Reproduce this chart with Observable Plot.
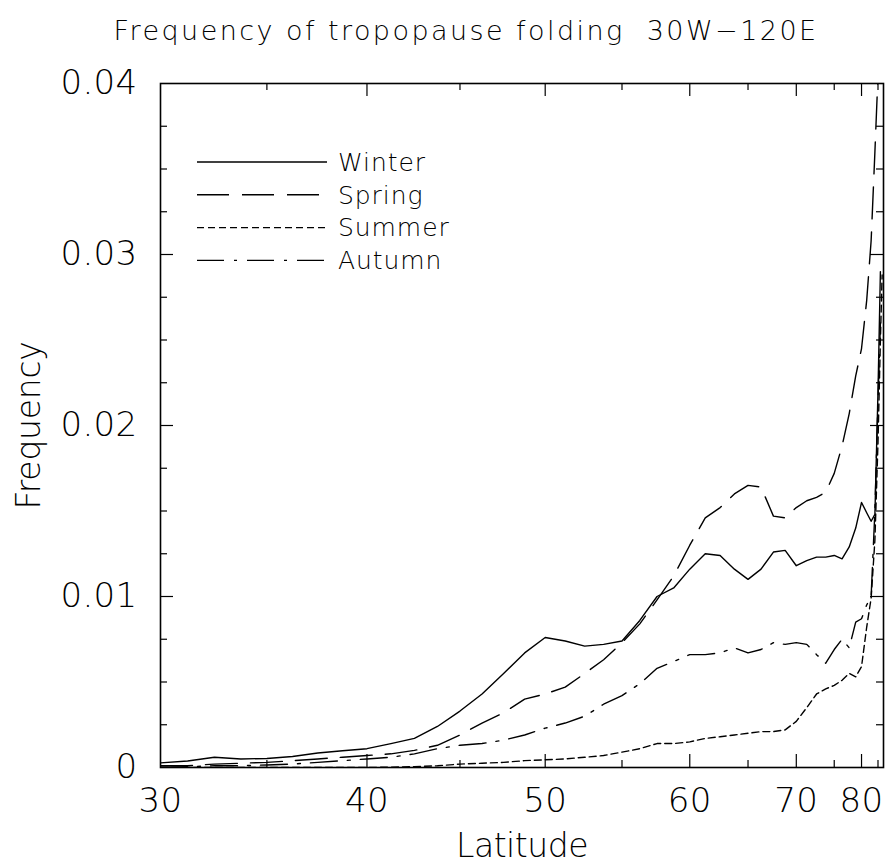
<!DOCTYPE html>
<html><head><meta charset="utf-8">
<script src="https://cdn.jsdelivr.net/npm/d3@7"></script>
<script src="https://cdn.jsdelivr.net/npm/@observablehq/plot@0.6"></script>
<style>
body{margin:0;background:#fff;}
#wrap{position:relative;width:886px;height:864px;overflow:hidden;}
#wrap svg{position:absolute;left:0;top:0;}
</style></head><body><div id="wrap"></div>
<script>
// ---- data ----
const title = "Frequency of tropopause folding\u00a0\u00a030W\u2212120E";
const xLabel = "Latitude";
const yLabel = "Frequency";
const latitudes = [30, 31.25, 32.5, 33.75, 35, 36.25, 37.5, 38.75, 40, 41.25, 42.5, 43.75, 45, 46.25, 47.5, 48.75, 50, 51.25, 52.5, 53.75, 55, 56.25, 57.5, 58.75, 60, 61.25, 62.5, 63.75, 65, 66.25, 67.5, 68.75, 70, 71.25, 72.5, 73.75, 75, 76.25, 77.5, 78.75, 80, 81.25, 82.5, 83.75, 85, 86.25, 87.5];
const seasons = ["Winter", "Spring", "Summer", "Autumn"];
const winter = [0.00027, 0.00038, 0.0006, 0.0005, 0.00053, 0.00064, 0.00085, 0.00098, 0.0011, 0.0014, 0.0017, 0.0024, 0.0033, 0.0043, 0.0055, 0.0067, 0.0076, 0.0074, 0.0071, 0.0072, 0.0074, 0.0086, 0.0100, 0.0105, 0.0116, 0.0125, 0.0124, 0.0116, 0.0110, 0.0116, 0.0126, 0.0127, 0.0118, 0.0121, 0.0123, 0.0123, 0.0124, 0.0122, 0.0129, 0.0140, 0.0155, 0.0149, 0.0144, 0.0148, 0.0220, 0.0290, null];
const spring = [0.0001, 0.0001, 0.0002, 0.00025, 0.0003, 0.0004, 0.0005, 0.0006, 0.0007, 0.0008, 0.0010, 0.0013, 0.0019, 0.0026, 0.0032, 0.0040, 0.0043, 0.0047, 0.0055, 0.0063, 0.0073, 0.0084, 0.0098, 0.0112, 0.0130, 0.0146, 0.0152, 0.0160, 0.0165, 0.0164, 0.0147, 0.0146, 0.0152, 0.0156, 0.0158, 0.0161, 0.0172, 0.0188, 0.0207, 0.0229, 0.0245, 0.0273, 0.0308, 0.0360, 0.0405, null, null];
const summer = [0, 0, 0, 0, 0, 0, 0, 0, 0, 0.00002, 0.00005, 0.0001, 0.0002, 0.00025, 0.0003, 0.0004, 0.00045, 0.0005, 0.0006, 0.0007, 0.0009, 0.0011, 0.0014, 0.0014, 0.0015, 0.0017, 0.0018, 0.0019, 0.0020, 0.0021, 0.0021, 0.0022, 0.0027, 0.0035, 0.0043, 0.0046, 0.0048, 0.0051, 0.0055, 0.0053, 0.0059, 0.0082, 0.0099, 0.0133, 0.0190, 0.0250, 0.0288];
const autumn = [0.00002, 0.00005, 0.0001, 0.0001, 0.00015, 0.0002, 0.0003, 0.0004, 0.0005, 0.0006, 0.0008, 0.0011, 0.0013, 0.0014, 0.0016, 0.0019, 0.0023, 0.0026, 0.0030, 0.0037, 0.0042, 0.0049, 0.0058, 0.0062, 0.0066, 0.0066, 0.0067, 0.0070, 0.0067, 0.0069, 0.0073, 0.0072, 0.0073, 0.0072, 0.0066, 0.0061, 0.0069, 0.0075, 0.0070, 0.0085, 0.0087, 0.0095, 0.0100, 0.0150, 0.0215, 0.0260, null];
const xTickLabels = [30, 40, 50, 60, 70, 80];
const xMajorTicks = [40, 50, 60, 70, 80];
const xMinorTicks = [35, 45, 55, 65, 75, 85];
const yTickLabels = [0, 0.01, 0.02, 0.03, 0.04];
const yMajorTicks = [0.01, 0.02, 0.03];
const yMinorTicks = [0.0025, 0.005, 0.0075, 0.0125, 0.015, 0.0175, 0.0225, 0.025, 0.0275, 0.0325, 0.035, 0.0375];

// ---- font choice: prefer a thin, monoline face if installed ----
const ctx = document.createElement("canvas").getContext("2d");
function pickFont() {
  const cands = [["DejaVu Sans", 200], ["Roboto", 300], ["Lato", 300], ["Open Sans", 300], ["Inter", 300], ["Noto Sans", 300]];
  const s = "Frequency of tropopause folding 0.04";
  for (const [f, w] of cands) {
    ctx.font = `400 40px "${f}"`; const a = ctx.measureText(s).width;
    ctx.font = `${w} 40px "${f}"`; const b = ctx.measureText(s).width;
    if (Math.abs(a - b) > 0.3) return [f, w];
  }
  return ["Roboto", 400];
}
const [FAM, WGT] = pickFont();
const FONT = `"${FAM}", sans-serif`;
function spacing(text, size, target) {
  ctx.font = `${WGT} ${size}px "${FAM}"`;
  const w = ctx.measureText(text).width;
  return Math.max(-1, (target - w) / text.length);
}

const dashes = {Winter: null, Spring: "32,13", Summer: "7,4", Autumn: "27,10,3,10"};
const seriesValues = {Winter: winter, Spring: spring, Summer: summer, Autumn: autumn};

const W = 886, H = 864, mT = 83, mB = 97, mL = 160, mR = 3;
const fw = W - mL - mR, fh = H - mT - mB;
const sinLat = lat => Math.sin(lat * Math.PI / 180);
const latOf = v => Math.round(Math.asin(v) * 180 / Math.PI);

const rows = [];
for (const s of seasons) {
  seriesValues[s].forEach((v, i) => {
    if (v != null) rows.push({season: s, lat: latitudes[i], v});
  });
}

const lineMarks = seasons.map(s => Plot.line(rows.filter(r => r.season === s), {
  x: d => sinLat(d.lat), y: "v", stroke: "black", strokeWidth: 1.4,
  strokeDasharray: dashes[s], clip: true
}));

const tickFS = 34, titleFS = 27, labelFS = 33, legFS = 25;
const plot = Plot.plot({
  width: W, height: H,
  marginTop: mT, marginBottom: mB, marginLeft: mL, marginRight: mR,
  style: {fontFamily: FONT, fontWeight: WGT, background: "white", color: "black"},
  x: {type: "linear", domain: [sinLat(30), sinLat(90)], label: null},
  y: {type: "linear", domain: [0, 0.04], label: null},
  marks: [
    ...lineMarks,
    Plot.tickX(xMajorTicks.map(sinLat), {x: d => d, insetTop: fh - 13, stroke: "black", strokeWidth: 1.2}),
    Plot.tickX(xMinorTicks.map(sinLat), {x: d => d, insetTop: fh - 7, stroke: "black", strokeWidth: 1.2}),
    Plot.tickX(xMajorTicks.map(sinLat), {x: d => d, insetBottom: fh - 13, stroke: "black", strokeWidth: 1.2}),
    Plot.tickX(xMinorTicks.map(sinLat), {x: d => d, insetBottom: fh - 7, stroke: "black", strokeWidth: 1.2}),
    Plot.tickY(yMajorTicks, {y: d => d, insetRight: fw - 13, stroke: "black", strokeWidth: 1.2}),
    Plot.tickY(yMinorTicks, {y: d => d, insetRight: fw - 7, stroke: "black", strokeWidth: 1.2}),
    Plot.tickY(yMajorTicks, {y: d => d, insetLeft: fw - 13, stroke: "black", strokeWidth: 1.2}),
    Plot.tickY(yMinorTicks, {y: d => d, insetLeft: fw - 7, stroke: "black", strokeWidth: 1.2}),
    Plot.frame({stroke: "black", strokeWidth: 1.6}),
    Plot.axisX(xTickLabels.map(sinLat), {anchor: "bottom", label: null, tickSize: 0, tickPadding: 20, fontSize: tickFS, tickFormat: latOf, fill: "black"}),
    Plot.axisY(yTickLabels, {anchor: "left", label: null, tickSize: 0, tickPadding: 23, fontSize: tickFS, tickFormat: d => d === 0 ? "0" : d.toFixed(2), fill: "black"}),
    Plot.text([xLabel], {frameAnchor: "bottom", lineAnchor: "middle", textAnchor: "middle", dy: 79, fontSize: labelFS, fill: "black"}),
    Plot.text([yLabel], {frameAnchor: "left", lineAnchor: "middle", textAnchor: "middle", dx: -131, rotate: -90, fontSize: labelFS, fill: "black"}),
    Plot.text([title], {frameAnchor: "top", lineAnchor: "middle", textAnchor: "middle", dy: -52, dx: -56, fontSize: titleFS, fill: "black"})
  ]
});
document.getElementById("wrap").appendChild(plot);
const sel = d3.select(plot).selectAll("text");
const tickLS = spacing("0.04", tickFS, 77);
sel.style("letter-spacing", tickLS + "px");
sel.filter(function(){ return this.textContent.startsWith("Frequency of"); }).style("letter-spacing", spacing(title, titleFS, 705) + "px");
sel.filter(function(){ return this.textContent === xLabel; }).style("letter-spacing", spacing(xLabel, labelFS, 132) + "px");
sel.filter(function(){ return this.textContent === yLabel; }).style("letter-spacing", spacing(yLabel, labelFS, 168) + "px");

// ---- legend overlay ----
const leg = d3.select("#wrap").append("svg").attr("width", W).attr("height", H);
const legRowY0 = 162, legRowStep = 32.8, legX1 = 197, legX2 = 327, legTextX = 338;
const legLS = spacing("Winter", legFS, 88);
seasons.forEach((s, i) => {
  const y = legRowY0 + i * legRowStep;
  leg.append("line").attr("x1", legX1).attr("x2", legX2).attr("y1", y).attr("y2", y)
    .attr("stroke", "black").attr("stroke-width", 1.4)
    .attr("stroke-dasharray", dashes[s]);
  leg.append("text").attr("x", legTextX).attr("y", y).attr("dy", "0.35em")
    .attr("font-family", FONT).attr("font-weight", WGT).attr("font-size", legFS)
    .style("letter-spacing", legLS + "px").text(s);
});
</script></body></html>
